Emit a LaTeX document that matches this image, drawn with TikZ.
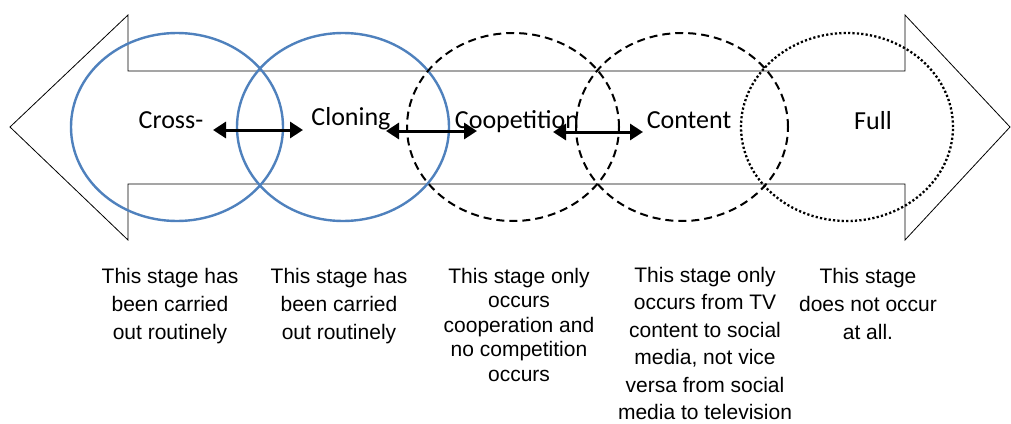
\documentclass[tikz,border=0pt]{standalone}
\usepackage{fontspec}
\setmainfont{Liberation Sans}
\newfontfamily\labfont{Carlito}
\usetikzlibrary{arrows.meta,shapes.geometric}
\definecolor{ofblue}{RGB}{79,129,189}
\tikzset{
  stage/.style={ellipse, minimum width=212pt, minimum height=188pt, inner sep=0pt},
  bluestage/.style={stage, draw=ofblue, line width=2.4pt},
  dashstage/.style={stage, draw=black, line width=2pt, dash pattern=on 8pt off 5pt},
  dotstage/.style={stage, draw=black, line width=2.3pt, dash pattern=on 2.2pt off 2.2pt},
  lab/.style={anchor=base, font=\labfont\fontsize{26}{30}\selectfont, inner sep=0pt},
  desc/.style={anchor=north, align=center, inner sep=0pt, font=\fontsize{21}{28}\selectfont},
  dbl/.style={line width=3pt, {Triangle[length=13pt,width=16pt]}-{Triangle[length=13pt,width=16pt]}},
  bigarrow/.style={draw=black, line width=0.8pt, fill=white}
}
\begin{document}
\begin{tikzpicture}[x=1pt,y=-1pt]
\useasboundingbox (0,0) rectangle (1011,423);
\draw[bigarrow] (10,127) -- (128,15) -- (128,71) -- (905,71) -- (905,15) -- (1010,127)
  -- (905,240) -- (905,184) -- (128,184) -- (128,240) -- cycle;
\node[bluestage] (e1) at (177,127) {};
\node[bluestage] (e2) at (343,127) {};
\node[dashstage] (e3) at (513,127) {};
\node[dashstage] (e4) at (682,127) {};
\node[dotstage]  (e5) at (847,127) {};
\node[lab] (l1) at (171,128) {Cross-};
\node[lab] (l2) at (351,125) {Cloning};
\node[lab] (l3) at (517,128) {Coopetition};
\node[lab] (l4) at (689,128) {Content};
\node[lab] (l5) at (873,129) {Full};
\coordinate (a1l) at (213,130); \coordinate (a1r) at (303,130);
\coordinate (a2l) at (386,131); \coordinate (a2r) at (477,131);
\coordinate (a3l) at (553,132); \coordinate (a3r) at (643,132);
\draw[dbl] (a1l) -- (a1r);
\draw[dbl] (a2l) -- (a2r);
\draw[dbl] (a3l) -- (a3r);
\node[desc] (d1) at (170,268) {This stage has\\been carried\\out routinely};
\node[desc] (d2) at (339,268) {This stage has\\been carried\\out routinely};
\node[desc, font=\fontsize{21}{24.5}\selectfont] (d3) at (519,268) {This stage only\\occurs\\cooperation and\\no competition\\occurs};
\node[desc, font=\fontsize{21}{27.4}\selectfont] (d4) at (705,267) {This stage only\\occurs from TV\\content to social\\media, not vice\\versa from social\\media to television};
\node[desc] (d5) at (868,268) {This stage\\does not occur\\at all.};
\end{tikzpicture}
\end{document}
